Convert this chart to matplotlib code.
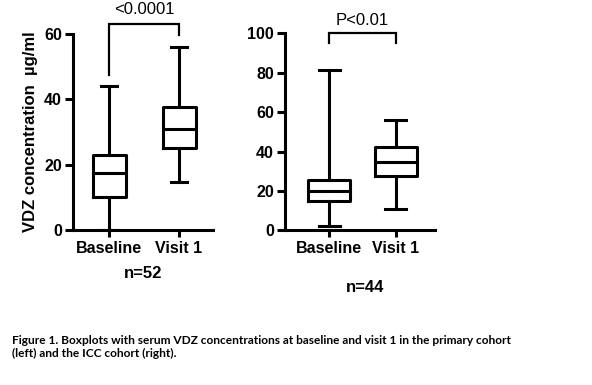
import matplotlib
matplotlib.use("Agg")
import matplotlib.pyplot as plt

categories = ["Baseline", "Visit 1"]

# five-number summaries: [whisker low, Q1, median, Q3, whisker high]
left_baseline = [0.2, 10.3, 17.4, 22.9, 43.9]
left_visit1 = [14.8, 25.2, 30.8, 37.5, 55.8]
right_baseline = [2.2, 15.1, 20.0, 25.4, 81.2]
right_visit1 = [11.0, 27.6, 34.5, 42.5, 56.0]

left_n = "n=52"
right_n = "n=44"
left_p = "<0.0001"
right_p = "P<0.01"
left_yticks = [0, 20, 40, 60]
right_yticks = [0, 20, 40, 60, 80, 100]
ylabel = "VDZ concentration  µg/ml"
caption = ("Figure 1. Boxplots with serum VDZ concentrations at baseline and visit 1 in the primary cohort\n"
           "(left) and the ICC cohort (right).")

W, H = 592, 385
fig = plt.figure(figsize=(W / 100, H / 100), dpi=100)
LW = 2.2
FONT = "Liberation Sans"


def px_axes(x0, y_top, x1, y_bot):
    return fig.add_axes([x0 / W, 1 - y_bot / H, (x1 - x0) / W, (y_bot - y_top) / H])


def stats(vals, label):
    lo, q1, med, q3, hi = vals
    return dict(whislo=lo, q1=q1, med=med, q3=q3, whishi=hi, label=label, fliers=[])


def draw(ax, data, width, ylim, yticks, bracket, ptext, ptext_y):
    ax.bxp([stats(d, c) for d, c in zip(data, categories)], positions=[1, 2],
           widths=width, showfliers=False, patch_artist=False,
           boxprops=dict(color="black", linewidth=LW),
           medianprops=dict(color="black", linewidth=LW),
           whiskerprops=dict(color="black", linewidth=LW),
           capprops=dict(color="black", linewidth=LW),
           capwidths=width / 2)
    ax.set_ylim(*ylim)
    ax.set_yticks(yticks)
    for s in ["top", "right"]:
        ax.spines[s].set_visible(False)
    for s in ["left", "bottom"]:
        ax.spines[s].set_linewidth(LW)
    ax.tick_params(axis="y", length=6, width=LW, labelsize=11.5, pad=2)
    ax.tick_params(axis="x", length=5, width=LW, labelsize=11.5, pad=3)
    for lab in ax.get_xticklabels() + ax.get_yticklabels():
        lab.set_fontweight("bold")
        lab.set_fontfamily(FONT)
    ax.set_facecolor("none")
    yl, ytop, yr = bracket
    ax.plot([1, 1, 2, 2], [yl, ytop, ytop, yr], color="black", lw=1.6, clip_on=False,
            solid_joinstyle="miter")
    ax.text(1.5, ptext_y, ptext, ha="center", va="center", fontsize=12, family=FONT,
            clip_on=False)


axL = px_axes(73, 33.7, 213, 230.3)
axL.set_xlim(1 - 36 / 70, 2 + 34 / 70)
draw(axL, [left_baseline, left_visit1], 33 / 70, (0, 60), left_yticks,
     (47.4, 63.1, 59.6), left_p, 67.5)
axL.set_ylabel(ylabel, fontsize=12, fontweight="bold", family=FONT, labelpad=4)

axR = px_axes(285, 33.3, 435, 230.3)
axR.set_xlim(1 - 44 / 66.7, 2 + 39.3 / 66.7)
draw(axR, [right_baseline, right_visit1], 42 / 66.7, (0, 100), right_yticks,
     (94.9, 100, 94.9), right_p, 106.5)

fig.text(143 / W, 1 - 273 / H, left_n, ha="center", va="center", fontsize=12,
         fontweight="bold", family=FONT)
fig.text(365 / W, 1 - 287 / H, right_n, ha="center", va="center", fontsize=12,
         fontweight="bold", family=FONT)

fig.text(12 / W, 1 - 335 / H, caption, ha="left", va="top", fontsize=8.6,
         fontweight="bold", family="Lato", linespacing=1.2)

fig.savefig("out.png", dpi=100, facecolor="white")
